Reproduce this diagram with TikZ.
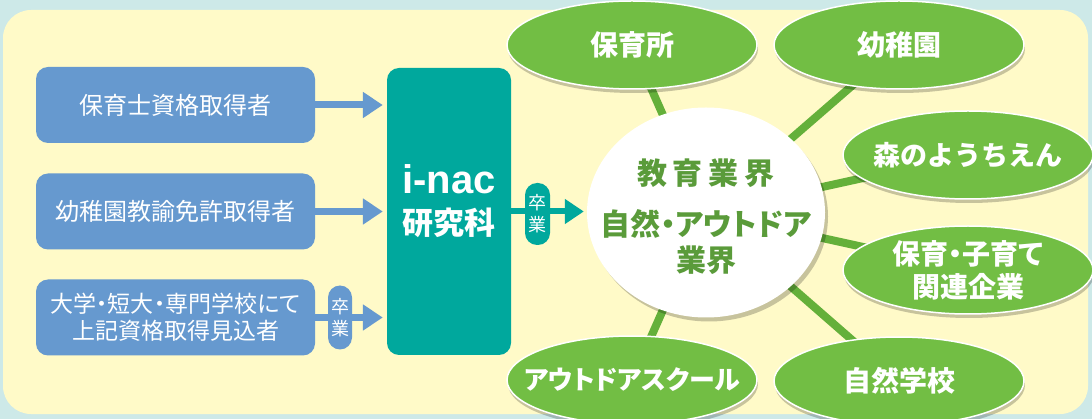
\documentclass[tikz,border=0pt]{standalone}
\usepackage{fontspec}
\setmainfont{Noto Sans CJK JP}
\newfontfamily\paltfont[RawFeature=+palt]{Noto Sans CJK JP}
\newfontfamily\latinfont{Liberation Sans}
\usetikzlibrary{shapes.geometric,arrows.meta,shadows}
\definecolor{skyback}{RGB}{205,233,232}
\definecolor{creamback}{RGB}{255,250,200}
\definecolor{boxblue}{RGB}{102,153,207}
\definecolor{inacteal}{RGB}{0,168,157}
\definecolor{leafgreen}{RGB}{114,190,68}
\definecolor{linkgreen}{RGB}{100,176,58}
\definecolor{hubgreen}{RGB}{90,155,58}
\pgfdeclarelayer{bg}
\pgfdeclarelayer{links}
\pgfsetlayers{bg,links,main}
\begin{document}
\begin{tikzpicture}[x=1pt,y=-1pt,
    srcbox/.style={fill=boxblue, rounded corners=12pt, minimum width=279pt,
      minimum height=76pt, inner sep=0pt, text=white, align=center,
      font=\fontsize{24pt}{27pt}\selectfont},
    pill/.style={rounded corners=12pt, minimum width=24pt, minimum height=64pt,
      inner sep=0pt, text=white, align=center, font=\fontsize{18pt}{22pt}\selectfont},
    inacbox/.style={fill=inacteal, rounded corners=12pt, minimum width=124pt,
      minimum height=287pt, inner sep=0pt},
    inactext/.style={text=white, align=center, inner sep=0pt,
      font=\bfseries\fontsize{31pt}{41pt}\selectfont},
    leaf/.style={ellipse, fill=leafgreen, draw=white, line width=1.5pt,
      minimum width=250pt, minimum height=88pt, inner xsep=-30pt, inner ysep=0pt,
      text=white, align=center, font=\bfseries\fontsize{28pt}{33pt}\selectfont,
      drop shadow={shadow xshift=1pt, shadow yshift=-4pt, opacity=0.22, fill=black}},
    hub/.style={ellipse, fill=white, minimum width=238pt, minimum height=210pt,
      inner sep=0pt,
      drop shadow={shadow xshift=3pt, shadow yshift=-4pt, opacity=0.22, fill=black}},
    hubtext/.style={text=hubgreen, align=center, inner sep=0pt,
      font=\paltfont\bfseries\fontsize{30pt}{36pt}\selectfont},
    link/.style={draw=linkgreen, line width=8pt},
    feed/.style={draw=boxblue, line width=7pt, -{Triangle[length=20pt,width=25pt]},
      shorten >=4pt},
    feedteal/.style={draw=inacteal, line width=6pt, -{Triangle[length=19pt,width=24pt]},
      shorten >=3pt}]
    \useasboundingbox (0,0) rectangle (1092,419);

    % Drawing background panels
    \begin{pgfonlayer}{bg}
    \fill [skyback] (0,0) rectangle (1092,419);%
    \fill [creamback, rounded corners=28pt] (3,10) rectangle (1088,414);%
    \end{pgfonlayer}

    % Drawing source boxes
    \node [srcbox] (hoikushi) at (175.5,105) {保育士資格取得者};%
    \node [srcbox] (yochien) at (175.5,211.5) {幼稚園教諭免許取得者};%
    \node [srcbox, font=\paltfont\fontsize{23pt}{27pt}\selectfont] (daigaku) at (175.5,317.5)
      {大学・短大・専門学校にて\\上記資格取得見込者};%

    % Drawing i-nac box
    \node [inacbox, label={[inactext, yshift=10pt]center:{{\latinfont\bfseries\fontsize{40pt}{41pt}\selectfont i-nac}\\研究科}}]
      (inac) at (449,211.5) {};%

    % Drawing hub and fields
    \node [hub, label={[hubtext, yshift=-4pt]center:{教\kern6pt育\kern6pt業\kern6pt界\\[15pt]自然・アウトドア\\業界}}]
      (hub) at (706,212.5) {};%
    \node [leaf] (hoikusho) at (632,45) {保育所};%
    \node [leaf] (kindergarten) at (899,45) {幼稚園};%
    \node [leaf, font=\bfseries\fontsize{27pt}{33pt}\selectfont] (forest) at (968,155) {森のようちえん};%
    \node [leaf, font=\paltfont\bfseries\fontsize{28pt}{33pt}\selectfont] (kosodate) at (968,270) {保育・子育て\\関連企業};%
    \node [leaf] (shizengakko) at (899,381) {自然学校};%
    \node [leaf, font=\paltfont\bfseries\fontsize{26pt}{33pt}\selectfont] (outdoor) at (632,380) {アウトドアスクール};%

    % Drawing links hub to fields
    \begin{pgfonlayer}{links}
    \draw [link] (hub.center) -- (hoikusho.center);%
    \draw [link] (hub.center) -- (kindergarten.center);%
    \draw [link] (hub.center) -- (forest.center);%
    \draw [link] (hub.center) -- (kosodate.center);%
    \draw [link] (hub.center) -- (shizengakko.center);%
    \draw [link] (hub.center) -- (outdoor.center);%
    \end{pgfonlayer}

    % Drawing arrows into i-nac
    \draw [feed] (hoikushi.east) -- (hoikushi.east -| inac.west);%
    \draw [feed] (yochien.east) -- (yochien.east -| inac.west);%
    \draw [feed] (daigaku.east) -- (daigaku.east -| inac.west);%
    \node [pill, fill=boxblue] (sotsu1) at (340,317.5) {卒\\業};%

    % Drawing arrow out of i-nac
    \draw [feedteal] (inac.east) -- (inac.east -| hub.west);%
    \node [pill, fill=inacteal, minimum width=25pt, minimum height=62pt] (sotsu2) at (537.5,214) {卒\\業};%
\end{tikzpicture}
\end{document}
